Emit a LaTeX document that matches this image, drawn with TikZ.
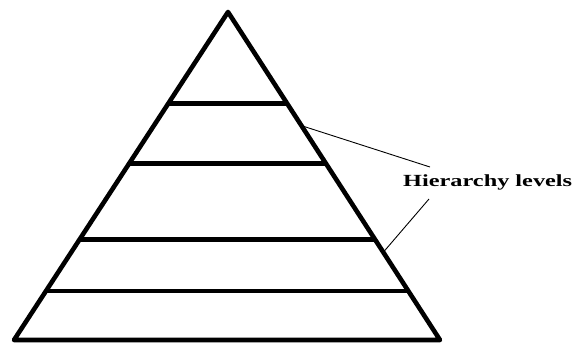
\documentclass[tikz,border=0pt]{standalone}
\usepackage{fontspec}
\usepackage{graphicx}
\setmainfont{Liberation Serif}
\begin{document}
\begin{tikzpicture}[x=1pt,y=-1pt,
  thickline/.style={line width=4.6pt,line cap=butt,line join=round},
  thinline/.style={line width=0.9pt},
  labeltext/.style={font=\fontsize{17}{20}\selectfont\bfseries,inner sep=0pt,anchor=base west}]
\useasboundingbox (0,0) rectangle (574,343);
\coordinate (A) at (228,12);
\coordinate (L) at (14,340);
\coordinate (R) at (440,340);
\path (A) -- (L)
  coordinate[pos=0.2796] (l1)
  coordinate[pos=0.4620] (l2)
  coordinate[pos=0.6930] (l3)
  coordinate[pos=0.8511] (l4);
\path (A) -- (R)
  coordinate[pos=0.2796] (r1)
  coordinate[pos=0.4620] (r2)
  coordinate[pos=0.6930] (r3)
  coordinate[pos=0.8511] (r4)
  coordinate[pos=0.3465] (e1)
  coordinate[pos=0.7325] (e2);
\draw[thickline] (L) -- (A) -- (R) -- cycle;
\draw[thickline] (l1) -- (r1);
\draw[thickline] (l2) -- (r2);
\draw[thickline] (l3) -- (r3);
\draw[thickline] (l4) -- (r4);
\node[labeltext] (lbl) at (403,186) {\scalebox{1.43}[1]{Hierarchy levels}};
\coordinate (t1) at (430,167);
\coordinate (t2) at (429,199);
\draw[thinline] (e1) -- (t1);
\draw[thinline] (t2) -- (e2);
\end{tikzpicture}
\end{document}
